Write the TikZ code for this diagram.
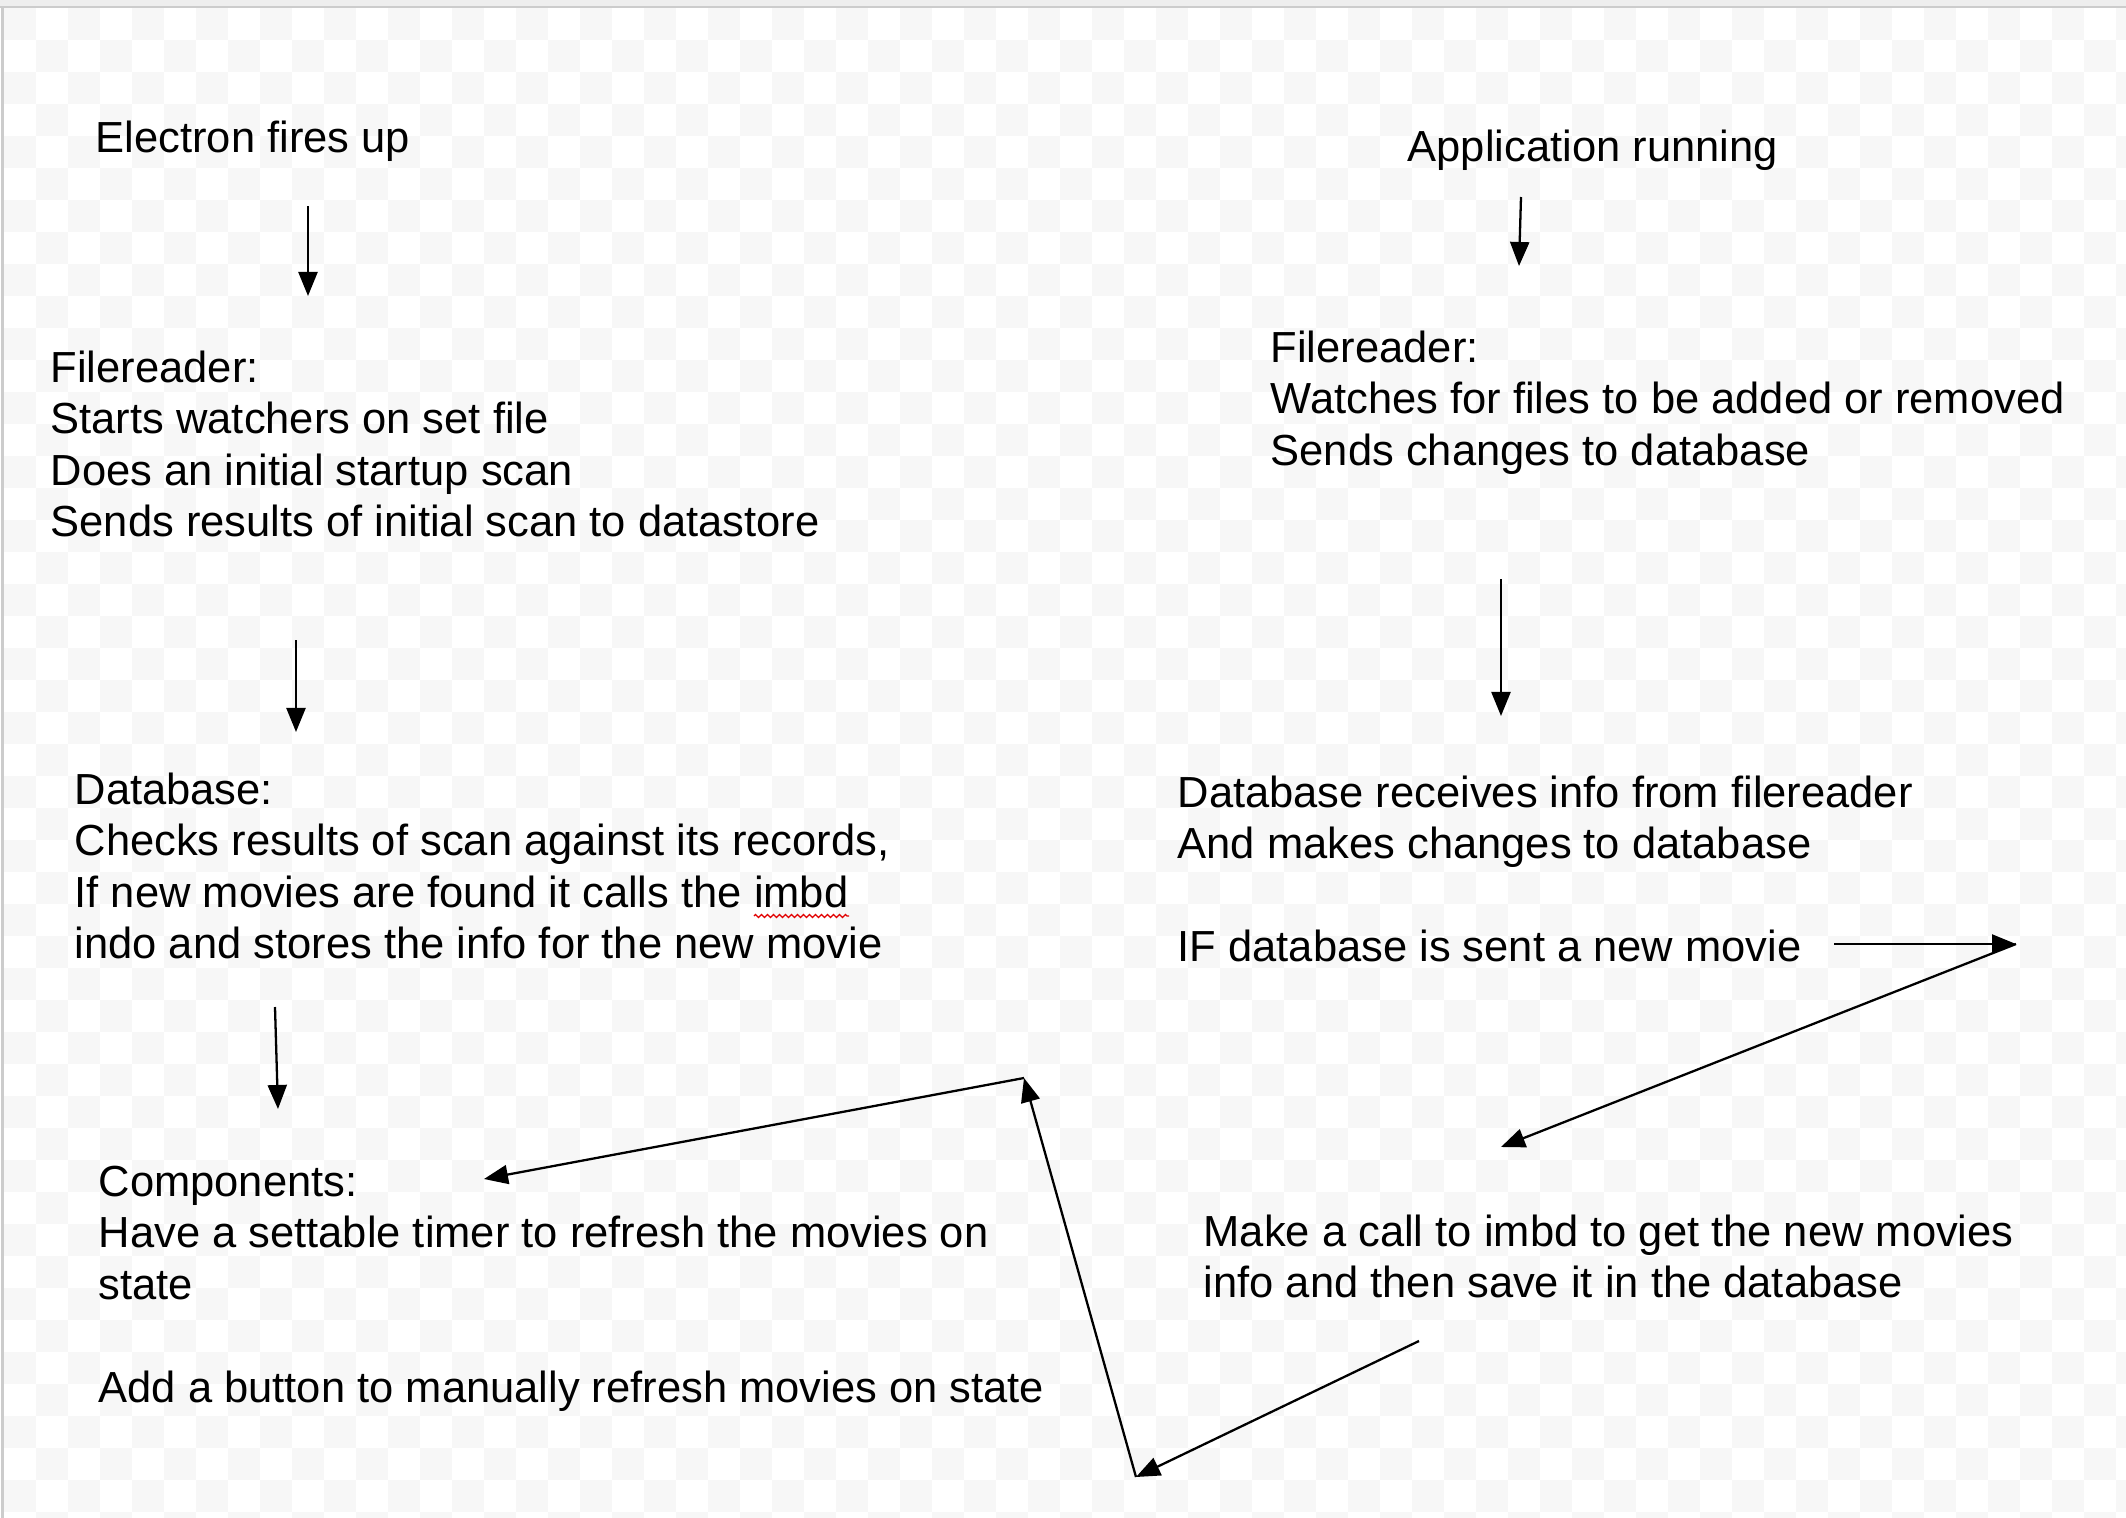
\documentclass[tikz,border=0pt]{standalone}
\usepackage{fontspec}
\setmainfont{Liberation Sans}
\usetikzlibrary{arrows.meta, decorations.pathmorphing}
\definecolor{checkgray}{RGB}{247,247,247}
\definecolor{barshade}{RGB}{238,238,238}
\definecolor{rimgray}{RGB}{204,204,204}
\definecolor{spellred}{RGB}{225,0,0}
\tikzset{
	note/.style={anchor=north west, inner sep=0pt, align=left, font=\fontsize{12.37pt}{14.65pt}\selectfont},
	flow/.style={-{Triangle[length=0.24cm,width=0.19cm]}, line width=0.65pt}
}

\begin{document}
\begin{tikzpicture}[x=0.01cm, y=-0.01cm]
	\useasboundingbox (0,0) rectangle (2126,1518);
	\fill[white] (0,0) rectangle (2126,1518);
	% checker background
	\begin{scope}
		\clip (0,0) rectangle (2126,1518);
		\foreach \r in {0,...,47}{
			\pgfmathtruncatemacro{\off}{mod(\r,2)}
			\foreach \c in {0,2,...,66}
				\fill[checkgray] ({4+32*(\c+\off)},{8+32*\r}) rectangle ++(32,32);
		}
	\end{scope}
	\fill[barshade] (0,0) rectangle (2126,6);
	\fill[rimgray] (0,6) rectangle (2126,8);
	\fill[rimgray] (1,8) rectangle (3.5,1518);

	% left column
	\node[note] (boot) at (95,120) {Electron fires up};
	\node[note] (scan) at (50,350) {Filereader:\\Starts watchers on set file\\Does an initial startup scan\\Sends results of initial scan to datastore};
	\node[note] (check) at (74,772) {Database:\\Checks results of scan against its records,\\If new movies are found it calls the imbd\\indo and stores the info for the new movie};
	\node[note] (comps) at (98,1165) {Components:\\Have a settable timer to refresh the movies on\\state\\[14.65pt]Add a button to manually refresh movies on state};
	\draw[spellred, line width=0.35pt, decorate, decoration={zigzag, segment length=0.06cm, amplitude=0.015cm}] (754,916) -- (849,916);

	% right column
	\node[note] (running) at (1407,129) {Application running};
	\node[note] (watch) at (1270,330) {Filereader:\\Watches for files to be added or removed\\Sends changes to database};
	\node[note] (receive) at (1177,775) {Database receives info from filereader\\And makes changes to database\\[14.65pt]IF database is sent a new movie};
	\node[note] (fetch) at (1203,1214) {Make a call to imbd to get the new movies\\info and then save it in the database};

	% arrow ends
	\coordinate (b1) at (308,206); \coordinate (b2) at (308,296);
	\coordinate (s1) at (296,640); \coordinate (s2) at (296,732);
	\coordinate (c1) at (275,1007); \coordinate (c2) at (278,1109);
	\coordinate (r1) at (1521,197); \coordinate (r2) at (1519,266);
	\coordinate (w1) at (1501,579); \coordinate (w2) at (1501,716);
	\coordinate (n1) at (1834,944); \coordinate (bend) at (2016,944);
	\coordinate (f1) at (1501,1147);
	\coordinate (f2) at (1419,1341); \coordinate (low) at (1136,1477);
	\coordinate (high) at (1024,1078); \coordinate (comptip) at (484,1179);

	\foreach \a/\b in {b1/b2, s1/s2, c1/c2, r1/r2, w1/w2, n1/bend, bend/f1, f2/low, low/high, high/comptip}
		\draw[flow] (\a) -- (\b);
\end{tikzpicture}
\end{document}
